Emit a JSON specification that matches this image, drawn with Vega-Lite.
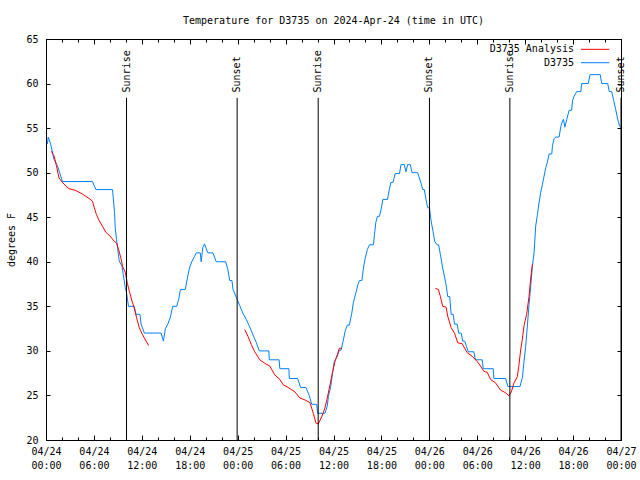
{
  "$schema": "https://vega.github.io/schema/vega-lite/v6.json",
  "autosize": "none",
  "width": 575,
  "height": 401,
  "padding": {"left": 46, "top": 39, "right": 19, "bottom": 40},
  "background": "white",
  "title": {
    "text": "Temperature for D3735 on 2024-Apr-24 (time in UTC)",
    "font": "DejaVu Sans Mono",
    "fontSize": 10,
    "fontWeight": "normal",
    "color": "black",
    "anchor": "middle",
    "offset": 8
  },
  "config": {
    "view": {"stroke": "black", "strokeWidth": 1},
    "axis": {
      "grid": false,
      "domainColor": "black",
      "tickColor": "black",
      "labelColor": "black",
      "labelFont": "DejaVu Sans Mono",
      "labelFontSize": 10,
      "titleFont": "DejaVu Sans Mono",
      "titleFontSize": 10,
      "titleFontWeight": "normal",
      "titleColor": "black"
    },
    "text": {"font": "DejaVu Sans Mono", "fontSize": 10, "color": "black"}
  },
  "datasets": {
    "obs": [
      {"t": "2024-04-24T00:10:00Z", "v": 53.2}, {"t": "2024-04-24T00:17:00Z", "v": 54.0}, {"t": "2024-04-24T00:35:00Z", "v": 53.2},
      {"t": "2024-04-24T01:00:00Z", "v": 51.5}, {"t": "2024-04-24T01:25:00Z", "v": 50.8}, {"t": "2024-04-24T01:43:00Z", "v": 50.0},
      {"t": "2024-04-24T02:03:00Z", "v": 49.0}, {"t": "2024-04-24T05:49:00Z", "v": 49.0}, {"t": "2024-04-24T06:15:00Z", "v": 48.1},
      {"t": "2024-04-24T08:20:00Z", "v": 48.1}, {"t": "2024-04-24T08:25:00Z", "v": 47.2}, {"t": "2024-04-24T08:35:00Z", "v": 45.5},
      {"t": "2024-04-24T08:40:00Z", "v": 43.8}, {"t": "2024-04-24T08:50:00Z", "v": 42.5}, {"t": "2024-04-24T09:01:00Z", "v": 41.2},
      {"t": "2024-04-24T09:10:00Z", "v": 40.1}, {"t": "2024-04-24T09:31:00Z", "v": 39.5}, {"t": "2024-04-24T09:40:00Z", "v": 38.6},
      {"t": "2024-04-24T09:56:00Z", "v": 37.1}, {"t": "2024-04-24T10:05:00Z", "v": 36.5}, {"t": "2024-04-24T10:20:00Z", "v": 35.0},
      {"t": "2024-04-24T11:03:00Z", "v": 35.0}, {"t": "2024-04-24T11:16:00Z", "v": 34.1}, {"t": "2024-04-24T11:46:00Z", "v": 34.1},
      {"t": "2024-04-24T11:54:00Z", "v": 33.0}, {"t": "2024-04-24T12:19:00Z", "v": 32.0}, {"t": "2024-04-24T14:25:00Z", "v": 32.0},
      {"t": "2024-04-24T14:42:00Z", "v": 31.1}, {"t": "2024-04-24T14:57:00Z", "v": 32.5}, {"t": "2024-04-24T15:15:00Z", "v": 33.0},
      {"t": "2024-04-24T15:33:00Z", "v": 33.7}, {"t": "2024-04-24T15:52:00Z", "v": 35.0}, {"t": "2024-04-24T16:22:00Z", "v": 35.0},
      {"t": "2024-04-24T16:37:00Z", "v": 35.8}, {"t": "2024-04-24T16:50:00Z", "v": 36.9}, {"t": "2024-04-24T17:26:00Z", "v": 36.9},
      {"t": "2024-04-24T17:33:00Z", "v": 37.4}, {"t": "2024-04-24T17:45:00Z", "v": 38.4}, {"t": "2024-04-24T17:58:00Z", "v": 39.3},
      {"t": "2024-04-24T18:15:00Z", "v": 40.0}, {"t": "2024-04-24T18:36:00Z", "v": 40.6}, {"t": "2024-04-24T18:49:00Z", "v": 41.0},
      {"t": "2024-04-24T19:19:00Z", "v": 41.0}, {"t": "2024-04-24T19:26:00Z", "v": 40.0}, {"t": "2024-04-24T19:38:00Z", "v": 41.6},
      {"t": "2024-04-24T19:51:00Z", "v": 42.0}, {"t": "2024-04-24T20:16:00Z", "v": 41.0}, {"t": "2024-04-24T20:54:00Z", "v": 41.0},
      {"t": "2024-04-24T21:19:00Z", "v": 40.0}, {"t": "2024-04-24T22:30:00Z", "v": 40.0}, {"t": "2024-04-24T22:47:00Z", "v": 39.1},
      {"t": "2024-04-24T23:00:00Z", "v": 37.9}, {"t": "2024-04-24T23:17:00Z", "v": 37.9}, {"t": "2024-04-24T23:25:00Z", "v": 36.9},
      {"t": "2024-04-24T23:50:00Z", "v": 36.0}, {"t": "2024-04-25T00:15:00Z", "v": 35.1}, {"t": "2024-04-25T00:40:00Z", "v": 34.2},
      {"t": "2024-04-25T01:06:00Z", "v": 33.5}, {"t": "2024-04-25T01:30:00Z", "v": 32.7}, {"t": "2024-04-25T01:55:00Z", "v": 31.8},
      {"t": "2024-04-25T02:21:00Z", "v": 30.9}, {"t": "2024-04-25T02:42:00Z", "v": 30.0}, {"t": "2024-04-25T03:54:00Z", "v": 30.0},
      {"t": "2024-04-25T03:58:00Z", "v": 29.0}, {"t": "2024-04-25T05:11:00Z", "v": 29.0}, {"t": "2024-04-25T05:17:00Z", "v": 28.0},
      {"t": "2024-04-25T06:25:00Z", "v": 28.0}, {"t": "2024-04-25T06:28:00Z", "v": 26.9}, {"t": "2024-04-25T07:30:00Z", "v": 26.9},
      {"t": "2024-04-25T07:53:00Z", "v": 25.9}, {"t": "2024-04-25T08:33:00Z", "v": 25.9}, {"t": "2024-04-25T08:58:00Z", "v": 25.0},
      {"t": "2024-04-25T09:16:00Z", "v": 24.0}, {"t": "2024-04-25T09:53:00Z", "v": 24.0}, {"t": "2024-04-25T10:01:00Z", "v": 23.0},
      {"t": "2024-04-25T10:56:00Z", "v": 23.0}, {"t": "2024-04-25T11:13:00Z", "v": 23.8}, {"t": "2024-04-25T11:22:00Z", "v": 24.9},
      {"t": "2024-04-25T11:39:00Z", "v": 26.0}, {"t": "2024-04-25T11:51:00Z", "v": 27.3}, {"t": "2024-04-25T12:06:00Z", "v": 28.8},
      {"t": "2024-04-25T12:29:00Z", "v": 29.4}, {"t": "2024-04-25T12:44:00Z", "v": 30.1}, {"t": "2024-04-25T12:57:00Z", "v": 30.1},
      {"t": "2024-04-25T13:14:00Z", "v": 31.2}, {"t": "2024-04-25T13:27:00Z", "v": 32.2}, {"t": "2024-04-25T13:44:00Z", "v": 32.9},
      {"t": "2024-04-25T13:59:00Z", "v": 32.9}, {"t": "2024-04-25T14:17:00Z", "v": 34.2}, {"t": "2024-04-25T14:29:00Z", "v": 35.4},
      {"t": "2024-04-25T14:48:00Z", "v": 36.5}, {"t": "2024-04-25T15:03:00Z", "v": 37.4}, {"t": "2024-04-25T15:15:00Z", "v": 37.9},
      {"t": "2024-04-25T15:33:00Z", "v": 37.9}, {"t": "2024-04-25T15:45:00Z", "v": 39.3}, {"t": "2024-04-25T15:58:00Z", "v": 40.4},
      {"t": "2024-04-25T16:15:00Z", "v": 41.4}, {"t": "2024-04-25T16:30:00Z", "v": 41.9}, {"t": "2024-04-25T17:00:00Z", "v": 41.9},
      {"t": "2024-04-25T17:08:00Z", "v": 43.1}, {"t": "2024-04-25T17:18:00Z", "v": 44.4}, {"t": "2024-04-25T17:30:00Z", "v": 45.1},
      {"t": "2024-04-25T17:45:00Z", "v": 45.1}, {"t": "2024-04-25T17:58:00Z", "v": 45.9}, {"t": "2024-04-25T18:11:00Z", "v": 47.0},
      {"t": "2024-04-25T18:46:00Z", "v": 47.0}, {"t": "2024-04-25T18:59:00Z", "v": 48.1}, {"t": "2024-04-25T19:11:00Z", "v": 48.9},
      {"t": "2024-04-25T19:26:00Z", "v": 48.9}, {"t": "2024-04-25T19:44:00Z", "v": 49.9}, {"t": "2024-04-25T20:16:00Z", "v": 49.9},
      {"t": "2024-04-25T20:27:00Z", "v": 50.9}, {"t": "2024-04-25T20:52:00Z", "v": 50.9}, {"t": "2024-04-25T21:04:00Z", "v": 50.1},
      {"t": "2024-04-25T21:17:00Z", "v": 50.9}, {"t": "2024-04-25T21:37:00Z", "v": 50.9}, {"t": "2024-04-25T21:50:00Z", "v": 50.0},
      {"t": "2024-04-25T22:32:00Z", "v": 50.0}, {"t": "2024-04-25T22:45:00Z", "v": 49.4}, {"t": "2024-04-25T23:00:00Z", "v": 48.7},
      {"t": "2024-04-25T23:10:00Z", "v": 48.1}, {"t": "2024-04-25T23:22:00Z", "v": 48.1}, {"t": "2024-04-25T23:35:00Z", "v": 47.0},
      {"t": "2024-04-25T23:47:00Z", "v": 46.1}, {"t": "2024-04-26T00:02:00Z", "v": 46.0}, {"t": "2024-04-26T00:13:00Z", "v": 44.6},
      {"t": "2024-04-26T00:28:00Z", "v": 43.4}, {"t": "2024-04-26T00:40:00Z", "v": 42.3}, {"t": "2024-04-26T00:58:00Z", "v": 41.9},
      {"t": "2024-04-26T01:10:00Z", "v": 41.9}, {"t": "2024-04-26T01:23:00Z", "v": 40.8}, {"t": "2024-04-26T01:40:00Z", "v": 39.3},
      {"t": "2024-04-26T01:53:00Z", "v": 38.4}, {"t": "2024-04-26T02:06:00Z", "v": 37.4}, {"t": "2024-04-26T02:18:00Z", "v": 36.1},
      {"t": "2024-04-26T02:33:00Z", "v": 36.1}, {"t": "2024-04-26T02:44:00Z", "v": 34.1}, {"t": "2024-04-26T02:59:00Z", "v": 34.1},
      {"t": "2024-04-26T03:09:00Z", "v": 33.0}, {"t": "2024-04-26T03:29:00Z", "v": 33.0}, {"t": "2024-04-26T03:41:00Z", "v": 32.0},
      {"t": "2024-04-26T03:59:00Z", "v": 32.0}, {"t": "2024-04-26T04:11:00Z", "v": 31.1}, {"t": "2024-04-26T04:26:00Z", "v": 31.1},
      {"t": "2024-04-26T04:39:00Z", "v": 30.5}, {"t": "2024-04-26T04:52:00Z", "v": 29.9}, {"t": "2024-04-26T05:34:00Z", "v": 29.9},
      {"t": "2024-04-26T05:47:00Z", "v": 29.0}, {"t": "2024-04-26T06:37:00Z", "v": 29.0}, {"t": "2024-04-26T06:45:00Z", "v": 28.0},
      {"t": "2024-04-26T08:00:00Z", "v": 28.0}, {"t": "2024-04-26T08:05:00Z", "v": 26.9}, {"t": "2024-04-26T09:33:00Z", "v": 26.9},
      {"t": "2024-04-26T09:50:00Z", "v": 26.0}, {"t": "2024-04-26T11:21:00Z", "v": 26.0}, {"t": "2024-04-26T11:39:00Z", "v": 27.0},
      {"t": "2024-04-26T11:51:00Z", "v": 28.8}, {"t": "2024-04-26T12:04:00Z", "v": 30.5}, {"t": "2024-04-26T12:17:00Z", "v": 32.9},
      {"t": "2024-04-26T12:29:00Z", "v": 35.2}, {"t": "2024-04-26T12:42:00Z", "v": 37.3}, {"t": "2024-04-26T12:54:00Z", "v": 39.5},
      {"t": "2024-04-26T13:07:00Z", "v": 41.0}, {"t": "2024-04-26T13:19:00Z", "v": 44.0}, {"t": "2024-04-26T13:32:00Z", "v": 45.3},
      {"t": "2024-04-26T13:44:00Z", "v": 46.6}, {"t": "2024-04-26T13:57:00Z", "v": 47.8}, {"t": "2024-04-26T14:10:00Z", "v": 48.7},
      {"t": "2024-04-26T14:22:00Z", "v": 49.6}, {"t": "2024-04-26T14:35:00Z", "v": 50.6}, {"t": "2024-04-26T14:47:00Z", "v": 51.2},
      {"t": "2024-04-26T15:00:00Z", "v": 52.1}, {"t": "2024-04-26T15:20:00Z", "v": 52.1}, {"t": "2024-04-26T15:25:00Z", "v": 53.0},
      {"t": "2024-04-26T15:37:00Z", "v": 53.8}, {"t": "2024-04-26T15:50:00Z", "v": 54.0}, {"t": "2024-04-26T16:15:00Z", "v": 54.0},
      {"t": "2024-04-26T16:28:00Z", "v": 55.2}, {"t": "2024-04-26T16:41:00Z", "v": 55.8}, {"t": "2024-04-26T16:48:00Z", "v": 56.0},
      {"t": "2024-04-26T16:58:00Z", "v": 55.1}, {"t": "2024-04-26T17:13:00Z", "v": 56.0}, {"t": "2024-04-26T17:30:00Z", "v": 57.0},
      {"t": "2024-04-26T17:49:00Z", "v": 57.0}, {"t": "2024-04-26T17:56:00Z", "v": 58.1}, {"t": "2024-04-26T18:08:00Z", "v": 58.6},
      {"t": "2024-04-26T18:28:00Z", "v": 59.1}, {"t": "2024-04-26T18:59:00Z", "v": 59.1}, {"t": "2024-04-26T19:04:00Z", "v": 60.0},
      {"t": "2024-04-26T19:54:00Z", "v": 60.0}, {"t": "2024-04-26T20:07:00Z", "v": 61.0}, {"t": "2024-04-26T21:24:00Z", "v": 61.0},
      {"t": "2024-04-26T21:35:00Z", "v": 60.0}, {"t": "2024-04-26T22:20:00Z", "v": 60.0}, {"t": "2024-04-26T22:32:00Z", "v": 59.1},
      {"t": "2024-04-26T22:50:00Z", "v": 59.1}, {"t": "2024-04-26T23:05:00Z", "v": 58.1}, {"t": "2024-04-26T23:20:00Z", "v": 57.1},
      {"t": "2024-04-26T23:35:00Z", "v": 56.0}, {"t": "2024-04-26T23:50:00Z", "v": 55.2}, {"t": "2024-04-27T00:00:00Z", "v": 55.1}
    ],
    "ana": [
      {"seg": 1, "t": "2024-04-24T00:40:00Z", "v": 52.4}, {"seg": 1, "t": "2024-04-24T01:00:00Z", "v": 51.9}, {"seg": 1, "t": "2024-04-24T01:18:00Z", "v": 50.8},
      {"seg": 1, "t": "2024-04-24T01:38:00Z", "v": 49.4}, {"seg": 1, "t": "2024-04-24T01:58:00Z", "v": 49.0}, {"seg": 1, "t": "2024-04-24T02:29:00Z", "v": 48.5},
      {"seg": 1, "t": "2024-04-24T02:53:00Z", "v": 48.2}, {"seg": 1, "t": "2024-04-24T03:44:00Z", "v": 48.0}, {"seg": 1, "t": "2024-04-24T04:34:00Z", "v": 47.6},
      {"seg": 1, "t": "2024-04-24T05:24:00Z", "v": 47.1}, {"seg": 1, "t": "2024-04-24T05:49:00Z", "v": 46.8}, {"seg": 1, "t": "2024-04-24T06:02:00Z", "v": 46.1},
      {"seg": 1, "t": "2024-04-24T06:19:00Z", "v": 45.3}, {"seg": 1, "t": "2024-04-24T06:40:00Z", "v": 44.6}, {"seg": 1, "t": "2024-04-24T07:04:00Z", "v": 44.0},
      {"seg": 1, "t": "2024-04-24T07:30:00Z", "v": 43.3}, {"seg": 1, "t": "2024-04-24T08:00:00Z", "v": 42.9}, {"seg": 1, "t": "2024-04-24T08:33:00Z", "v": 42.3},
      {"seg": 1, "t": "2024-04-24T08:50:00Z", "v": 42.1}, {"seg": 1, "t": "2024-04-24T09:05:00Z", "v": 41.4}, {"seg": 1, "t": "2024-04-24T09:23:00Z", "v": 40.4},
      {"seg": 1, "t": "2024-04-24T09:35:00Z", "v": 39.5}, {"seg": 1, "t": "2024-04-24T09:56:00Z", "v": 38.8}, {"seg": 1, "t": "2024-04-24T10:11:00Z", "v": 37.6},
      {"seg": 1, "t": "2024-04-24T10:26:00Z", "v": 36.7}, {"seg": 1, "t": "2024-04-24T10:46:00Z", "v": 35.6}, {"seg": 1, "t": "2024-04-24T11:03:00Z", "v": 34.8},
      {"seg": 1, "t": "2024-04-24T11:21:00Z", "v": 33.7}, {"seg": 1, "t": "2024-04-24T11:41:00Z", "v": 32.6}, {"seg": 1, "t": "2024-04-24T12:06:00Z", "v": 31.8},
      {"seg": 1, "t": "2024-04-24T12:32:00Z", "v": 31.1}, {"seg": 1, "t": "2024-04-24T12:51:00Z", "v": 30.6},
      {"seg": 2, "t": "2024-04-25T00:53:00Z", "v": 32.4}, {"seg": 2, "t": "2024-04-25T01:18:00Z", "v": 31.6}, {"seg": 2, "t": "2024-04-25T01:43:00Z", "v": 30.7},
      {"seg": 2, "t": "2024-04-25T02:08:00Z", "v": 29.9}, {"seg": 2, "t": "2024-04-25T02:46:00Z", "v": 29.0}, {"seg": 2, "t": "2024-04-25T03:24:00Z", "v": 28.6},
      {"seg": 2, "t": "2024-04-25T04:01:00Z", "v": 28.3}, {"seg": 2, "t": "2024-04-25T04:39:00Z", "v": 27.3}, {"seg": 2, "t": "2024-04-25T05:17:00Z", "v": 26.8},
      {"seg": 2, "t": "2024-04-25T05:42:00Z", "v": 26.2}, {"seg": 2, "t": "2024-04-25T06:19:00Z", "v": 25.9}, {"seg": 2, "t": "2024-04-25T07:10:00Z", "v": 25.4},
      {"seg": 2, "t": "2024-04-25T07:48:00Z", "v": 24.7}, {"seg": 2, "t": "2024-04-25T08:25:00Z", "v": 24.5}, {"seg": 2, "t": "2024-04-25T09:03:00Z", "v": 24.2},
      {"seg": 2, "t": "2024-04-25T09:28:00Z", "v": 23.0}, {"seg": 2, "t": "2024-04-25T09:48:00Z", "v": 21.9}, {"seg": 2, "t": "2024-04-25T10:06:00Z", "v": 21.8},
      {"seg": 2, "t": "2024-04-25T10:31:00Z", "v": 22.6}, {"seg": 2, "t": "2024-04-25T10:56:00Z", "v": 23.6}, {"seg": 2, "t": "2024-04-25T11:13:00Z", "v": 24.7},
      {"seg": 2, "t": "2024-04-25T11:34:00Z", "v": 26.2}, {"seg": 2, "t": "2024-04-25T11:54:00Z", "v": 27.7}, {"seg": 2, "t": "2024-04-25T12:11:00Z", "v": 28.8},
      {"seg": 2, "t": "2024-04-25T12:29:00Z", "v": 29.6}, {"seg": 2, "t": "2024-04-25T12:44:00Z", "v": 30.3}, {"seg": 2, "t": "2024-04-25T13:02:00Z", "v": 30.3},
      {"seg": 3, "t": "2024-04-26T00:45:00Z", "v": 37.0}, {"seg": 3, "t": "2024-04-26T01:08:00Z", "v": 36.9}, {"seg": 3, "t": "2024-04-26T01:23:00Z", "v": 36.1},
      {"seg": 3, "t": "2024-04-26T01:40:00Z", "v": 35.0}, {"seg": 3, "t": "2024-04-26T02:06:00Z", "v": 34.9}, {"seg": 3, "t": "2024-04-26T02:18:00Z", "v": 33.9},
      {"seg": 3, "t": "2024-04-26T02:44:00Z", "v": 32.6}, {"seg": 3, "t": "2024-04-26T03:09:00Z", "v": 32.0}, {"seg": 3, "t": "2024-04-26T03:34:00Z", "v": 30.9},
      {"seg": 3, "t": "2024-04-26T04:07:00Z", "v": 30.8}, {"seg": 3, "t": "2024-04-26T04:44:00Z", "v": 29.8}, {"seg": 3, "t": "2024-04-26T05:22:00Z", "v": 29.4},
      {"seg": 3, "t": "2024-04-26T06:00:00Z", "v": 28.8}, {"seg": 3, "t": "2024-04-26T06:25:00Z", "v": 28.3}, {"seg": 3, "t": "2024-04-26T06:50:00Z", "v": 27.7},
      {"seg": 3, "t": "2024-04-26T07:15:00Z", "v": 27.6}, {"seg": 3, "t": "2024-04-26T07:40:00Z", "v": 26.8}, {"seg": 3, "t": "2024-04-26T08:18:00Z", "v": 26.4},
      {"seg": 3, "t": "2024-04-26T08:55:00Z", "v": 25.6}, {"seg": 3, "t": "2024-04-26T09:33:00Z", "v": 25.3}, {"seg": 3, "t": "2024-04-26T09:58:00Z", "v": 24.95},
      {"seg": 3, "t": "2024-04-26T10:16:00Z", "v": 25.4}, {"seg": 3, "t": "2024-04-26T10:36:00Z", "v": 26.4}, {"seg": 3, "t": "2024-04-26T11:01:00Z", "v": 27.1},
      {"seg": 3, "t": "2024-04-26T11:13:00Z", "v": 28.4}, {"seg": 3, "t": "2024-04-26T11:26:00Z", "v": 30.1}, {"seg": 3, "t": "2024-04-26T11:39:00Z", "v": 31.3},
      {"seg": 3, "t": "2024-04-26T11:51:00Z", "v": 32.8}, {"seg": 3, "t": "2024-04-26T12:11:00Z", "v": 34.1}, {"seg": 3, "t": "2024-04-26T12:29:00Z", "v": 36.1},
      {"seg": 3, "t": "2024-04-26T12:42:00Z", "v": 38.2}, {"seg": 3, "t": "2024-04-26T12:54:00Z", "v": 39.7}
    ],
    "events": [
      {"t": "2024-04-24T10:05:00Z", "label": "Sunrise"},
      {"t": "2024-04-24T23:56:00Z", "label": "Sunset"},
      {"t": "2024-04-25T10:05:00Z", "label": "Sunrise"},
      {"t": "2024-04-26T00:01:00Z", "label": "Sunset"},
      {"t": "2024-04-26T10:05:00Z", "label": "Sunrise"},
      {"t": "2024-04-27T00:00:00Z", "label": "Sunset"}
    ]
  },
  "resolve": {"axis": {"x": "independent", "y": "independent"}},
  "layer": [
    {
      "data": {"name": "obs"},
      "mark": {"type": "line", "color": "#0080ff", "strokeWidth": 1, "clip": true},
      "encoding": {
        "x": {
          "field": "t", "type": "temporal",
          "scale": {"type": "utc", "domain": [{"year": 2024, "month": 4, "date": 24, "utc": true}, {"year": 2024, "month": 4, "date": 27, "utc": true}]},
          "axis": {
            "orient": "bottom",
            "title": null,
            "values": [1713916800000, 1713924000000, 1713931200000, 1713938400000, 1713945600000, 1713952800000, 1713960000000, 1713967200000, 1713974400000, 1713981600000, 1713988800000, 1713996000000, 1714003200000, 1714010400000, 1714017600000, 1714024800000, 1714032000000, 1714039200000, 1714046400000, 1714053600000, 1714060800000, 1714068000000, 1714075200000, 1714082400000, 1714089600000, 1714096800000, 1714104000000, 1714111200000, 1714118400000, 1714125600000, 1714132800000, 1714140000000, 1714147200000, 1714154400000, 1714161600000, 1714168800000, 1714176000000],
            "tickCount": 50,
            "tickSize": {"condition": {"test": "utchours(datum.value) % 6 == 0", "value": -5}, "value": -3},
            "labelExpr": "utchours(datum.value) % 6 == 0 ? [utcFormat(datum.value, '%m/%d'), utcFormat(datum.value, '%H:%M')] : ''",
            "labelOverlap": false,
            "labelFlush": false,
            "labelBound": false,
            "labelPadding": 11,
            "labelLineHeight": 14,
            "labelBaseline": "top"
          }
        },
        "y": {
          "field": "v", "type": "quantitative",
          "scale": {"domain": [20, 65], "nice": false, "zero": false},
          "axis": {
            "orient": "left",
            "title": "degrees F",
            "values": [20, 25, 30, 35, 40, 45, 50, 55, 60, 65],
            "tickCount": 20,
            "tickSize": -4,
            "labelPadding": 12,
            "titlePadding": 9
          }
        }
      }
    },
    {
      "data": {"name": "ana"},
      "mark": {"type": "line", "color": "#ff0000", "strokeWidth": 1, "clip": true},
      "encoding": {
        "x": {
          "field": "t", "type": "temporal",
          "axis": {
            "orient": "top",
            "title": null,
            "values": [1713916800000, 1713924000000, 1713931200000, 1713938400000, 1713945600000, 1713952800000, 1713960000000, 1713967200000, 1713974400000, 1713981600000, 1713988800000, 1713996000000, 1714003200000, 1714010400000, 1714017600000, 1714024800000, 1714032000000, 1714039200000, 1714046400000, 1714053600000, 1714060800000, 1714068000000, 1714075200000, 1714082400000, 1714089600000, 1714096800000, 1714104000000, 1714111200000, 1714118400000, 1714125600000, 1714132800000, 1714140000000, 1714147200000, 1714154400000, 1714161600000, 1714168800000, 1714176000000],
            "tickCount": 50,
            "tickSize": {"condition": {"test": "utchours(datum.value) % 6 == 0", "value": -5}, "value": -3},
            "labels": false
          }
        },
        "y": {
          "field": "v", "type": "quantitative",
          "axis": {
            "orient": "right",
            "title": null,
            "values": [20, 25, 30, 35, 40, 45, 50, 55, 60, 65],
            "tickCount": 20,
            "tickSize": -4,
            "labels": false
          }
        },
        "detail": {"field": "seg", "type": "nominal"}
      }
    },
    {
      "data": {"name": "events"},
      "mark": {"type": "rule", "color": "black", "strokeWidth": 1},
      "encoding": {
        "x": {"field": "t", "type": "temporal", "axis": null},
        "y": {"datum": 58.4, "type": "quantitative", "axis": null},
        "y2": {"datum": 20}
      }
    },
    {
      "data": {"name": "events"},
      "mark": {"type": "text", "angle": 270, "align": "left", "baseline": "middle"},
      "encoding": {
        "x": {"field": "t", "type": "temporal", "axis": null},
        "y": {"datum": 59.0, "type": "quantitative", "axis": null},
        "text": {"field": "label", "type": "nominal"}
      }
    },
    {
      "data": {"values": [{"name": "D3735 Analysis"}]},
      "mark": {"type": "text", "align": "right", "baseline": "middle"},
      "encoding": {
        "x": {"datum": {"year": 2024, "month": 4, "date": 26, "hours": 18, "minutes": 7, "utc": true}, "type": "temporal", "axis": null},
        "y": {"datum": 63.84, "type": "quantitative", "axis": null},
        "text": {"field": "name", "type": "nominal"}
      }
    },
    {
      "data": {"values": [{"name": "D3735"}]},
      "mark": {"type": "text", "align": "right", "baseline": "middle"},
      "encoding": {
        "x": {"datum": {"year": 2024, "month": 4, "date": 26, "hours": 18, "minutes": 7, "utc": true}, "type": "temporal", "axis": null},
        "y": {"datum": 62.34, "type": "quantitative", "axis": null},
        "text": {"field": "name", "type": "nominal"}
      }
    },
    {
      "data": {"values": [{"name": "D3735 Analysis"}]},
      "mark": {"type": "rule", "color": "#ff0000", "strokeWidth": 1},
      "encoding": {
        "x": {"datum": {"year": 2024, "month": 4, "date": 26, "hours": 18, "minutes": 59, "utc": true}, "type": "temporal", "axis": null},
        "x2": {"datum": {"year": 2024, "month": 4, "date": 26, "hours": 22, "minutes": 32, "utc": true}},
        "y": {"datum": 63.84, "type": "quantitative", "axis": null}
      }
    },
    {
      "data": {"values": [{"name": "D3735"}]},
      "mark": {"type": "rule", "color": "#0080ff", "strokeWidth": 1},
      "encoding": {
        "x": {"datum": {"year": 2024, "month": 4, "date": 26, "hours": 18, "minutes": 59, "utc": true}, "type": "temporal", "axis": null},
        "x2": {"datum": {"year": 2024, "month": 4, "date": 26, "hours": 22, "minutes": 32, "utc": true}},
        "y": {"datum": 62.34, "type": "quantitative", "axis": null}
      }
    }
  ]
}
